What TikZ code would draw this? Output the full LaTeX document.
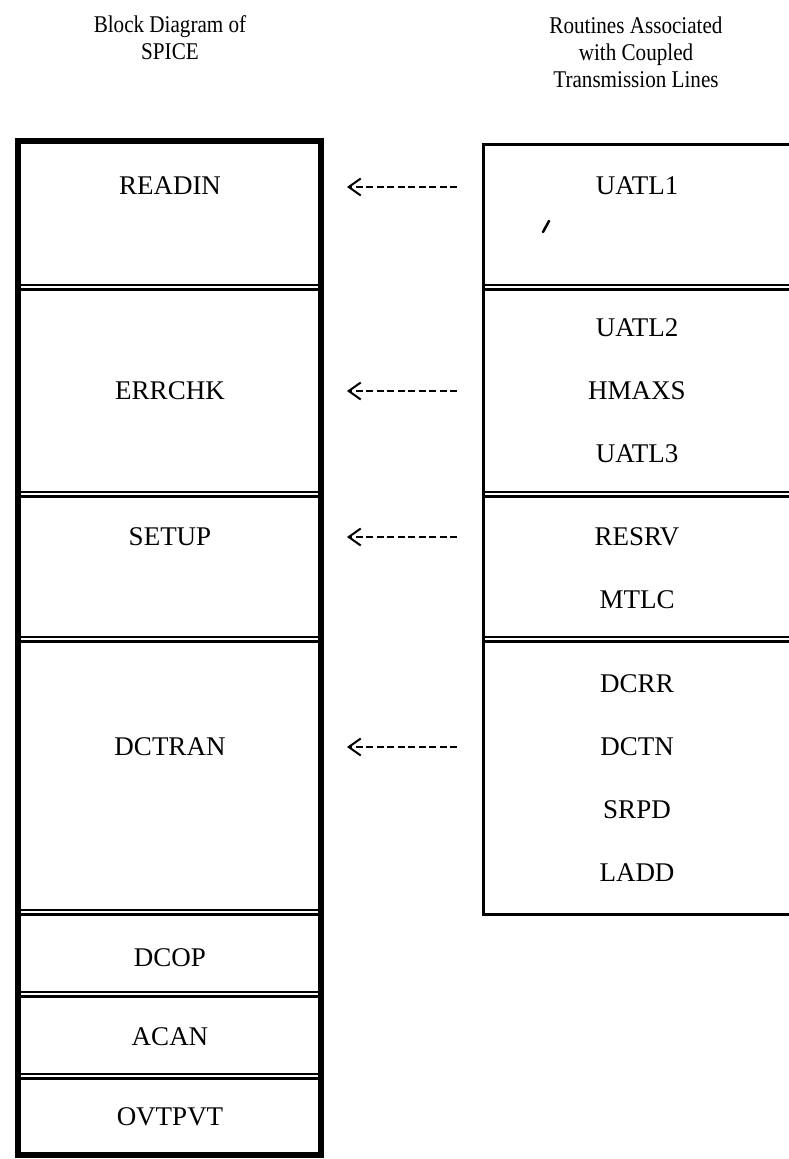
\documentclass[tikz,border=0pt]{standalone}
\usepackage{fontspec}
\setmainfont{Liberation Serif}
\newfontfamily\hdrfont[FakeStretch=0.88]{Liberation Serif}
\usetikzlibrary{arrows.meta}
\begin{document}
\begin{tikzpicture}[x=1pt,y=-1pt,
 lbl/.style={font=\fontsize{27}{30}\selectfont, inner sep=0pt, anchor=center},
 hdr/.style={font=\hdrfont\fontsize{24}{27}\selectfont, align=center, inner sep=0pt},
 thickbox/.style={line width=6pt},
 thinbox/.style={line width=3pt},
 septhin/.style={line width=1.5pt},
 septhick/.style={line width=3.5pt},
 feed/.style={line width=2.2pt, dash pattern=on 7pt off 3.5pt, -{Straight Barb[length=12pt,width=17pt,line width=2pt]}}
]
\useasboundingbox (0,0) rectangle (789,1159);
\clip (0,0) rectangle (789,1159);
% headers
\node[hdr] (h1) at (170,38) {Block Diagram of\\SPICE};
\node[hdr] (h2) at (636,52) {Routines Associated\\with Coupled\\Transmission Lines};
% left box
\draw[thickbox] (18,141) rectangle (321,1155);
\foreach \yy in {288,495,640,913,995,1077}{
  \draw[septhin] (21,\yy-3) -- (318,\yy-3);
  \draw[septhick] (21,\yy+1.5) -- (318,\yy+1.5);
}
% right box
\draw[thinbox] (483,144) rectangle (800,914);
\foreach \yy in {288,495,640}{
  \draw[septhin] (484,\yy-3) -- (789,\yy-3);
  \draw[septhick] (484,\yy+1.5) -- (789,\yy+1.5);
}
% left labels
\node[lbl] (readin) at (170,186) {READIN};
\node[lbl] (errchk) at (170,391) {ERRCHK};
\node[lbl] (setup) at (170,537) {SETUP};
\node[lbl] (dctran) at (170,747) {DCTRAN};
\node[lbl] (dcop) at (170,958) {DCOP};
\node[lbl] (acan) at (170,1037) {ACAN};
\node[lbl] (ovtpvt) at (170,1117) {OVTPVT};
% right labels
\node[lbl] (uatl1) at (637,186) {UATL1};
\node[lbl] (uatl2) at (637,328) {UATL2};
\node[lbl] (hmaxs) at (637,391) {HMAXS};
\node[lbl] (uatl3) at (637,454) {UATL3};
\node[lbl] (resrv) at (637,537) {RESRV};
\node[lbl] (mtlc) at (637,600) {MTLC};
\node[lbl] (dcrr) at (637,684) {DCRR};
\node[lbl] (dctn) at (637,747) {DCTN};
\node[lbl] (srpd) at (637,810) {SRPD};
\node[lbl] (ladd) at (637,873) {LADD};
% arrows
\coordinate (s1) at (457,187); \coordinate (e1) at (347,187);
\coordinate (s2) at (457,391); \coordinate (e2) at (347,391);
\coordinate (s3) at (457,537); \coordinate (e3) at (347,537);
\coordinate (s4) at (457,747); \coordinate (e4) at (347,747);
\draw[feed] (s1) -- (e1);
\draw[feed] (s2) -- (e2);
\draw[feed] (s3) -- (e3);
\draw[feed] (s4) -- (e4);
% stray mark
\draw[line width=2.5pt, line cap=round] (543,232) -- (549,221);
\end{tikzpicture}
\end{document}
